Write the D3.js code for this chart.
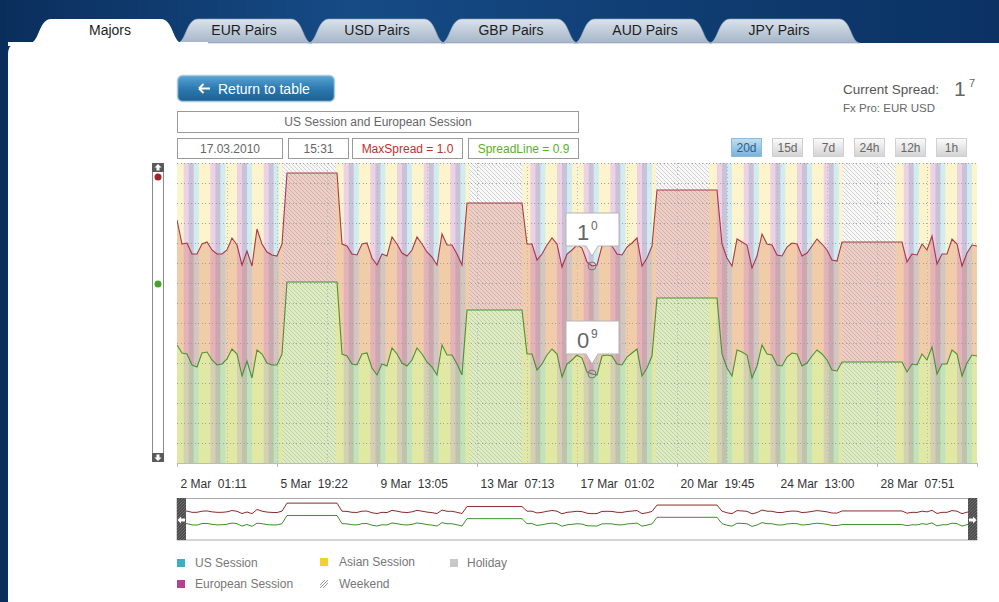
<!DOCTYPE html>
<meta charset="utf-8">
<style>
  body { margin: 0; background: #0e3a6c; }
  svg { display: block; }
  text { font-family: "Liberation Sans", Arial, sans-serif; }
  .grid line { stroke: #a0a0a0; stroke-dasharray: 1,2.5; shape-rendering: crispEdges; }
  .vgrid line { stroke: #b8b8b8; stroke-dasharray: 1,2.5; shape-rendering: crispEdges; }
  .axis text { font-size: 12px; fill: #333; white-space: pre; }
  .axis path, .axis line { stroke: #bbb; shape-rendering: crispEdges; }
  .legend text { font-size: 12px; fill: #777; }
  .box { fill: #fff; stroke: #9a9a9a; shape-rendering: crispEdges; }
</style>
<body>
<script src="https://d3js.org/d3.v7.min.js"></script>
<script>
// --- data ---------------------------------------------------------------
var tabNames = ["Majors", "EUR Pairs", "USD Pairs", "GBP Pairs", "AUD Pairs", "JPY Pairs"];
var rangeButtons = ["20d", "15d", "7d", "24h", "12h", "1h"];

// x axis: hours since 2 Mar 01:11, ticks every 90h
var tickHours = [0, 90, 180, 270, 360, 450, 540, 630, 720];
var tickLabels = ["2 Mar  01:11", "5 Mar  19:22", "9 Mar  13:05", "13 Mar  07:13",
                  "17 Mar  01:02", "20 Mar  19:45", "24 Mar  13:00", "28 Mar  07:51", ""];
var stepHours = 4.5;

var maxSpread = [
  1.215, 1.095, 1.10, 1.045, 1.045, 1.095, 1.105, 1.065, 1.045, 1.045,
  1.065, 1.125, 1.09, 0.99, 1.06, 0.985, 1.17, 1.095, 1.055, 1.04,
  1.035, 1.095,
  1.45, 1.45, 1.45, 1.45, 1.45, 1.45, 1.45, 1.45, 1.45, 1.45, 1.45,
  1.095, 1.085, 1.045, 1.04, 1.095, 1.10, 1.025,
  0.99, 1.045, 1.035, 1.13, 1.095, 1.05, 1.035, 1.065, 1.13, 1.095,
  1.055, 1.03, 0.99, 1.145, 1.09, 1.09, 1.045, 0.99,
  1.30, 1.30, 1.30, 1.30, 1.30, 1.30, 1.30, 1.30, 1.30, 1.30, 1.30, 1.30,
  1.095, 1.095, 1.015, 1.045, 1.09, 1.125, 1.095, 0.98, 1.045, 1.065,
  1.09, 1.075, 1.005, 0.985, 0.99, 1.085, 1.09, 1.085, 1.045, 1.04,
  1.08, 1.10, 1.125, 0.985, 1.025, 1.085,
  1.365, 1.365, 1.365, 1.365, 1.365, 1.365, 1.365, 1.365, 1.365, 1.365, 1.365, 1.365, 1.365,
  1.095, 1.025, 0.985, 1.12, 1.105, 1.09, 0.975, 1.035, 1.145, 1.095, 1.09,
  1.04, 1.035, 1.08, 1.10, 1.095, 1.035, 1.05, 1.085, 1.12, 1.095, 1.065, 1.015, 1.01,
  1.105, 1.105, 1.105, 1.105, 1.105, 1.105, 1.105, 1.105, 1.105, 1.105, 1.105, 1.105, 1.105,
  1.005, 1.045, 1.04, 1.095, 1.065, 1.135, 0.995, 1.045, 1.045, 1.12, 1.095, 0.985, 1.05, 1.09, 1.085
];

var spreadLine = [
  0.59, 0.55, 0.545, 0.49, 0.48, 0.55, 0.555, 0.515, 0.49, 0.495,
  0.52, 0.57, 0.545, 0.435, 0.51, 0.425, 0.565, 0.545, 0.50, 0.49,
  0.49, 0.545,
  0.905, 0.905, 0.905, 0.905, 0.905, 0.905, 0.905, 0.905, 0.905, 0.905, 0.905,
  0.545, 0.535, 0.495, 0.49, 0.545, 0.55, 0.475,
  0.44, 0.495, 0.485, 0.575, 0.545, 0.50, 0.485, 0.515, 0.575, 0.545,
  0.505, 0.48, 0.44, 0.59, 0.54, 0.54, 0.495, 0.44,
  0.765, 0.765, 0.765, 0.765, 0.765, 0.765, 0.765, 0.765, 0.765, 0.765, 0.765, 0.765,
  0.545, 0.545, 0.465, 0.495, 0.54, 0.57, 0.545, 0.43, 0.495, 0.515,
  0.54, 0.525, 0.455, 0.445, 0.44, 0.535, 0.54, 0.535, 0.495, 0.49,
  0.53, 0.55, 0.57, 0.435, 0.475, 0.535,
  0.825, 0.825, 0.825, 0.825, 0.825, 0.825, 0.825, 0.825, 0.825, 0.825, 0.825, 0.825, 0.825,
  0.545, 0.475, 0.435, 0.565, 0.555, 0.54, 0.425, 0.485, 0.59, 0.545, 0.54,
  0.49, 0.485, 0.53, 0.55, 0.545, 0.485, 0.50, 0.535, 0.565, 0.545, 0.515, 0.465, 0.46,
  0.505, 0.505, 0.505, 0.505, 0.505, 0.505, 0.505, 0.505, 0.505, 0.505, 0.505, 0.505, 0.505,
  0.455, 0.495, 0.49, 0.545, 0.515, 0.58, 0.445, 0.495, 0.495, 0.565, 0.545, 0.435, 0.50, 0.54, 0.535
];

// trading sessions, clock hours (chart time)
var sessionNames = ["Asian Session", "US Session", "European Session"];
var sessionFrom = [20.7, 11.7, 7.2];
var sessionTo = [31.2, 20.7, 16.2];
var sessionColors = ["#f4d22a", "#3ab0c0", "#b5408e"];
var startClock = 1 + 11 / 60;

// weekends, hours since start
var weekends = [[94.8, 142.8], [262.8, 310.8], [430.8, 478.8], [598.8, 646.8]];

var markerIndex = 83;
var markerValues = ["1.0", "0.9"];

// --- scales ---------------------------------------------------------------
var width = 999, height = 602;
var x = d3.scaleLinear().domain([0, 720]).range([177, 977]);
var y = d3.scaleLinear().domain([0, 1.5]).range([463, 163]);
var yNav = d3.scaleLinear().domain([0, 1.5]).range([536, 502]);

var svg = d3.select("body").append("svg")
  .attr("width", width)
  .attr("height", height);

var defs = svg.append("defs");

var sky = defs.append("linearGradient").attr("id", "sky");
sky.append("stop").attr("offset", 0).attr("stop-color", "#0a2e5c");
sky.append("stop").attr("offset", 0.35).attr("stop-color", "#164b86");
sky.append("stop").attr("offset", 0.7).attr("stop-color", "#0f3c71");
sky.append("stop").attr("offset", 1).attr("stop-color", "#0b3263");

function vGrad(id, stops) {
  var g = defs.append("linearGradient").attr("id", id)
    .attr("x1", 0).attr("x2", 0).attr("y1", 0).attr("y2", 1);
  stops.forEach(function(s) {
    g.append("stop").attr("offset", s[0]).attr("stop-color", s[1]);
  });
}
vGrad("tabGrad", [[0, "#dbe3ec"], [1, "#a5b5c7"]]);
vGrad("btnGrad", [[0, "#5aa4d4"], [0.5, "#2c7ab0"], [1, "#1d6092"]]);
vGrad("btnOn", [[0, "#bfe0f4"], [1, "#78b1da"]]);
vGrad("btnOff", [[0, "#fbfbfb"], [1, "#d3d3d3"]]);

var hatch = defs.append("pattern").attr("id", "hatch")
  .attr("patternUnits", "userSpaceOnUse").attr("width", 4).attr("height", 4);
hatch.append("rect").attr("width", 4).attr("height", 4).attr("fill", "#f9f9f9");
hatch.append("path").attr("d", "M-1,3 l2,2 M0,0 l4,4 M3,-1 l2,2")
  .attr("stroke", "#c6c6c6").attr("stroke-width", 0.8);

var hatchDark = defs.append("pattern").attr("id", "hatchDark")
  .attr("patternUnits", "userSpaceOnUse").attr("width", 3).attr("height", 3);
hatchDark.append("rect").attr("width", 3).attr("height", 3).attr("fill", "#4c4c4c");
hatchDark.append("path").attr("d", "M-1,1 l2,-2 M0,3 l3,-3 M2,4 l2,-2")
  .attr("stroke", "#777").attr("stroke-width", 0.8);

defs.append("clipPath").attr("id", "plotClip")
  .append("rect").attr("x", 177).attr("y", 163).attr("width", 800).attr("height", 300);

// --- page frame ---------------------------------------------------------------
svg.append("rect").attr("width", width).attr("height", height).attr("fill", "url(#sky)");
svg.append("path").attr("d", "M8,602 V54 Q8,43 19,43 H999 V602 Z").attr("fill", "#fff");

function tabPath(x0, x1) {
  return "M" + x0 + ",43 C" + (x0 + 9) + ",43 " + (x0 + 9) + ",19 " + (x0 + 21) + ",19 L" +
    (x1 - 21) + ",19 C" + (x1 - 9) + ",19 " + (x1 - 9) + ",43 " + x1 + ",43 Z";
}
var tabX = [[30, 182], [177, 312], [308, 445], [441, 578], [574, 712], [709, 860]];
var tabCx = [110, 244, 377, 511, 645, 779];
for (var t = tabNames.length - 1; t >= 1; t--) {
  svg.append("path").attr("d", tabPath(tabX[t][0], tabX[t][1]))
    .attr("fill", "url(#tabGrad)").attr("stroke", "#8fa3b8").attr("stroke-width", 0.6);
}
svg.append("path").attr("d", tabPath(tabX[0][0], tabX[0][1])).attr("fill", "#fff");
svg.append("rect").attr("x", 8).attr("y", 42).attr("width", 200).attr("height", 4).attr("fill", "#fff");
svg.selectAll("text.tab").data(tabNames).enter().append("text")
  .attr("class", "tab")
  .attr("x", function(d, i) { return tabCx[i]; })
  .attr("y", 35)
  .attr("text-anchor", "middle")
  .style("font-size", "14px")
  .style("fill", "#1e1e1e")
  .text(function(d) { return d; });

// return button
svg.append("rect").attr("x", 177.5).attr("y", 75.5).attr("width", 157).attr("height", 26).attr("rx", 5)
  .attr("fill", "url(#btnGrad)").attr("stroke", "#a9cbe0").attr("stroke-width", 1.5);
svg.append("path").attr("d", "M199,88.5 h11 M199,88.5 l4.5,-4.5 M199,88.5 l4.5,4.5")
  .attr("stroke", "#fff").attr("stroke-width", 2).attr("fill", "none");
svg.append("text").attr("x", 218).attr("y", 93.5)
  .style("font-size", "14px").style("fill", "#fff")
  .text("Return to table");

// info boxes
svg.append("rect").attr("class", "box").attr("x", 177.5).attr("y", 111.5).attr("width", 401).attr("height", 21);
svg.append("text").attr("x", 378).attr("y", 126).attr("text-anchor", "middle")
  .style("font-size", "12px").style("fill", "#666").text("US Session and European Session");

var infoBoxes = [
  {x: 177.5, w: 105, text: "17.03.2010", color: "#666"},
  {x: 288.5, w: 60, text: "15:31", color: "#666"},
  {x: 352.5, w: 110, text: "MaxSpread = " + markerValues[0], color: "#c0302e"},
  {x: 468.5, w: 110, text: "SpreadLine = " + markerValues[1], color: "#5aaf32"}
];
infoBoxes.forEach(function(b) {
  svg.append("rect").attr("class", "box").attr("x", b.x).attr("y", 138.5).attr("width", b.w).attr("height", 20);
  svg.append("text").attr("x", b.x + b.w / 2).attr("y", 152.5).attr("text-anchor", "middle")
    .style("font-size", "12px").style("fill", b.color).text(b.text);
});

// current spread
svg.append("text").attr("x", 843).attr("y", 94).style("font-size", "13.5px").style("fill", "#555").text("Current Spread:");
svg.append("text").attr("x", 954).attr("y", 96).style("font-size", "21px").style("fill", "#666").text("1");
svg.append("text").attr("x", 969).attr("y", 87).style("font-size", "11px").style("fill", "#666").text("7");
svg.append("text").attr("x", 843).attr("y", 112).style("font-size", "11.5px").style("fill", "#666").text("Fx Pro: EUR USD");

// range buttons
var btnX = [731, 772, 813, 854, 895, 936];
rangeButtons.forEach(function(b, i) {
  svg.append("rect").attr("x", btnX[i] + 0.5).attr("y", 138.5).attr("width", 30).attr("height", 18)
    .attr("fill", i === 0 ? "url(#btnOn)" : "url(#btnOff)")
    .attr("stroke", i === 0 ? "#8dbbdc" : "#d0d0d0");
  svg.append("text").attr("x", btnX[i] + 15.5).attr("y", 152).attr("text-anchor", "middle")
    .style("font-size", "12px").style("fill", i === 0 ? "#2f5f8c" : "#666").text(b);
});

// --- plot ---------------------------------------------------------------
var plot = svg.append("g").attr("clip-path", "url(#plotClip)");

var stripes = [];
sessionNames.forEach(function(s, si) {
  d3.range(-1, 31).forEach(function(d) {
    var mid = d * 24 - startClock;
    var a = Math.max(0, mid + sessionFrom[si]), b = Math.min(720, mid + sessionTo[si]);
    if (b > a) stripes.push({a: a, b: b, color: sessionColors[si]});
  });
});
plot.selectAll("rect.stripe").data(stripes).enter().append("rect")
  .attr("class", "stripe")
  .attr("x", function(d) { return x(d.a); })
  .attr("width", function(d) { return x(d.b) - x(d.a); })
  .attr("y", 163).attr("height", 300)
  .attr("fill", function(d) { return d.color; })
  .attr("opacity", 0.24);

plot.selectAll("rect.weekend").data(weekends).enter().append("rect")
  .attr("class", "weekend")
  .attr("x", function(d) { return x(d[0]); })
  .attr("width", function(d) { return x(d[1]) - x(d[0]); })
  .attr("y", 163).attr("height", 300)
  .attr("fill", "url(#hatch)");

var idx = d3.range(maxSpread.length);
var band = d3.area()
  .x(function(i) { return x(i * stepHours); })
  .y0(function(i) { return y(spreadLine[i]); })
  .y1(function(i) { return y(maxSpread[i]); });
var lower = d3.area()
  .x(function(i) { return x(i * stepHours); })
  .y0(y(0))
  .y1(function(i) { return y(spreadLine[i]); });

plot.append("path").datum(idx).attr("d", band).attr("fill", "rgb(210,95,70)").attr("fill-opacity", 0.27);
plot.append("path").datum(idx).attr("d", lower).attr("fill", "rgb(160,205,70)").attr("fill-opacity", 0.3);

// grid
plot.append("g").attr("class", "grid").selectAll("line")
  .data(d3.range(1, 16).map(function(v) { return v / 10; }))
  .enter().append("line")
  .attr("x1", 177).attr("x2", 977)
  .attr("y1", function(d) { return Math.round(y(d)) + 0.5; })
  .attr("y2", function(d) { return Math.round(y(d)) + 0.5; });
plot.append("g").attr("class", "vgrid").selectAll("line")
  .data(d3.range(45, 721, 45))
  .enter().append("line")
  .attr("y1", 163).attr("y2", 463)
  .attr("x1", function(d) { return Math.round(x(d)) + 0.5; })
  .attr("x2", function(d) { return Math.round(x(d)) + 0.5; });

var redLine = d3.line()
  .x(function(i) { return x(i * stepHours); })
  .y(function(i) { return y(maxSpread[i]); });
var greenLine = d3.line()
  .x(function(i) { return x(i * stepHours); })
  .y(function(i) { return y(spreadLine[i]); });

plot.append("path").datum(idx).attr("d", greenLine)
  .attr("fill", "none").attr("stroke", "#3d8a26").attr("stroke-width", 1.1).attr("stroke-opacity", 0.9);
plot.append("path").datum(idx).attr("d", redLine)
  .attr("fill", "none").attr("stroke", "#9e1f33").attr("stroke-width", 1.1).attr("stroke-opacity", 0.85);

// x axis
var xAxis = svg.append("g").attr("class", "axis")
  .attr("transform", "translate(0,463)")
  .call(d3.axisBottom(x).tickValues(tickHours)
    .tickFormat(function(d, i) { return tickLabels[i]; })
    .tickSize(4).tickSizeOuter(0));
xAxis.selectAll("text").attr("text-anchor", "start").attr("x", 3).attr("y", 16);

// markers and tooltips
var mx = x(markerIndex * stepHours);
[maxSpread[markerIndex], spreadLine[markerIndex]].forEach(function(v, k) {
  var cy = y(v);
  svg.append("circle").attr("cx", mx).attr("cy", cy).attr("r", 4)
    .attr("fill", "none").attr("stroke", "#777").attr("stroke-width", 1);
  var top = cy - 53, bot = cy - 20;
  svg.append("path")
    .attr("d", "M" + (mx - 26) + "," + top + " H" + (mx + 27) + " V" + bot + " H" + (mx + 6) +
      " L" + mx + "," + (cy - 10) + " L" + (mx - 6) + "," + bot + " H" + (mx - 26) + " Z")
    .attr("fill", "#fff").attr("stroke", "#b5b5b5").attr("stroke-width", 1);
  var parts = markerValues[k].split(".");
  svg.append("text").attr("x", mx - 15).attr("y", top + 27)
    .style("font-size", "22px").style("fill", "#666").text(parts[0]);
  svg.append("text").attr("x", mx - 1).attr("y", top + 17)
    .style("font-size", "12px").style("fill", "#666").text(parts[1]);
});

// left scroller
svg.append("rect").attr("x", 152.5).attr("y", 163.5).attr("width", 11).attr("height", 298)
  .attr("fill", "#fff").attr("stroke", "#8a8a8a");
[163, 453].forEach(function(by, k) {
  svg.append("rect").attr("x", 152).attr("y", by).attr("width", 12).attr("height", 9).attr("rx", 1).attr("fill", "#5a5a5a");
  var ay = by + 4.5;
  svg.append("path")
    .attr("d", k === 0
      ? "M158," + (ay - 3.5) + " l3.5,3.5 h-2 v3 h-3 v-3 h-2 Z"
      : "M158," + (ay + 3.5) + " l3.5,-3.5 h-2 v-3 h-3 v3 h-2 Z")
    .attr("fill", "#fff");
});
svg.append("circle").attr("cx", 158).attr("cy", 177).attr("r", 3.5).attr("fill", "#a3232b");
svg.append("circle").attr("cx", 158).attr("cy", 284).attr("r", 3.5).attr("fill", "#4aa02c");

// --- navigator ---------------------------------------------------------------
svg.append("rect").attr("x", 177).attr("y", 498.5).attr("width", 800).attr("height", 41.5)
  .attr("fill", "#fff").attr("stroke", "#aaa");
var navRed = d3.line().x(function(i) { return x(i * stepHours); }).y(function(i) { return yNav(maxSpread[i]); });
var navGreen = d3.line().x(function(i) { return x(i * stepHours); }).y(function(i) { return yNav(spreadLine[i]); });
svg.append("path").datum(idx).attr("d", navRed).attr("fill", "none").attr("stroke", "#8e2a2a").attr("stroke-width", 1);
svg.append("path").datum(idx).attr("d", navGreen).attr("fill", "none").attr("stroke", "#3f8d2c").attr("stroke-width", 1);
[[177, -1], [968, 1]].forEach(function(h) {
  svg.append("rect").attr("x", h[0]).attr("y", 498).attr("width", 9).attr("height", 42).attr("fill", "url(#hatchDark)");
  var cx = h[0] + 4.5;
  svg.append("path")
    .attr("d", h[1] < 0
      ? "M" + (cx - 4) + ",520 l3.5,-3.5 v2 h4 v3 h-4 v2 Z"
      : "M" + (cx + 4) + ",520 l-3.5,-3.5 v2 h-4 v3 h4 v2 Z")
    .attr("fill", "#fff");
});

// --- legend ---------------------------------------------------------------
var legendItems = [
  {name: "US Session", color: "#3ab0c0", x: 177, y: 559},
  {name: "European Session", color: "#b5408e", x: 177, y: 580},
  {name: "Asian Session", color: "#f4d22a", x: 320, y: 558},
  {name: "Weekend", color: "hatch", x: 320, y: 580},
  {name: "Holiday", color: "#c8c8c8", x: 450, y: 559}
];
var legend = svg.append("g").attr("class", "legend");
legendItems.forEach(function(d) {
  if (d.color === "hatch") {
    legend.append("path")
      .attr("d", "M" + d.x + "," + (d.y + 8) + " l8,-8 M" + (d.x + 3) + "," + (d.y + 8) + " l5,-5 M" + d.x + "," + (d.y + 5) + " l5,-5")
      .attr("stroke", "#999").attr("stroke-width", 1);
  } else {
    legend.append("rect").attr("x", d.x).attr("y", d.y).attr("width", 8).attr("height", 8).attr("fill", d.color);
  }
  legend.append("text").attr("x", d.x + (d.x === 177 ? 18 : (d.x === 320 ? 19 : 17))).attr("y", d.y + 8).text(d.name);
});
</script>
</body>
